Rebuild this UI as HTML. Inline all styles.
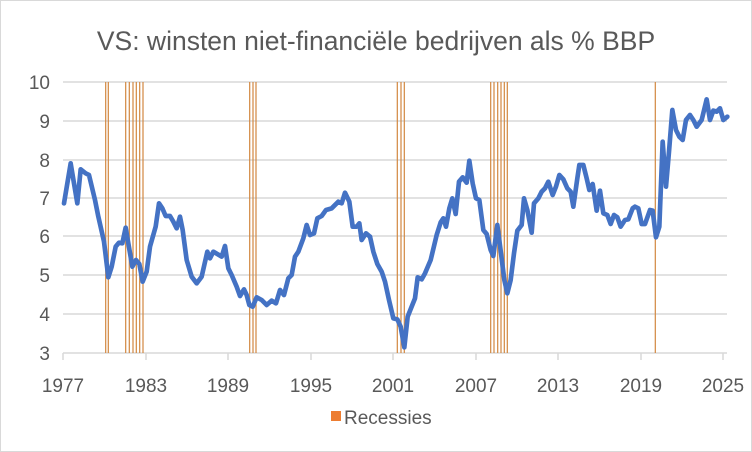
<!DOCTYPE html>
<html><head><meta charset="utf-8"><style>
html,body{margin:0;padding:0;background:#fff;}
svg{display:block;font-family:"Liberation Sans",Calibri,sans-serif;}
</style></head><body>
<svg width="752" height="452" viewBox="0 0 752 452" xmlns="http://www.w3.org/2000/svg">
<rect x="0.5" y="0.5" width="751" height="451" fill="#fff" stroke="#d9d9d9"/>
<text x="376" y="50" text-anchor="middle" font-size="26.5" fill="#595959">VS: winsten niet-financiële bedrijven als % BBP</text>
<g stroke="#d9d9d9" stroke-width="1.5">
<line x1="63" x2="727" y1="82" y2="82"/><line x1="63" x2="727" y1="121" y2="121"/>
<line x1="63" x2="727" y1="160" y2="160"/><line x1="63" x2="727" y1="198" y2="198"/>
<line x1="63" x2="727" y1="236" y2="236"/><line x1="63" x2="727" y1="275" y2="275"/>
<line x1="63" x2="727" y1="314" y2="314"/><line x1="63" x2="727" y1="353" y2="353"/>
<line x1="63" x2="63" y1="353" y2="360"/><line x1="146" x2="146" y1="353" y2="360"/>
<line x1="228" x2="228" y1="353" y2="360"/><line x1="311" x2="311" y1="353" y2="360"/>
<line x1="393" x2="393" y1="353" y2="360"/><line x1="476" x2="476" y1="353" y2="360"/>
<line x1="558" x2="558" y1="353" y2="360"/><line x1="641" x2="641" y1="353" y2="360"/>
<line x1="723" x2="723" y1="353" y2="360"/>
</g>
<g stroke="#d2873f" stroke-width="1.2">
<line x1="105.7" x2="105.7" y1="82" y2="353"/><line x1="108.3" x2="108.3" y1="82" y2="353"/>
<line x1="125.7" x2="125.7" y1="82" y2="353"/><line x1="129.3" x2="129.3" y1="82" y2="353"/>
<line x1="133" x2="133" y1="82" y2="353"/><line x1="136.3" x2="136.3" y1="82" y2="353"/>
<line x1="139.7" x2="139.7" y1="82" y2="353"/><line x1="143" x2="143" y1="82" y2="353"/>
<line x1="249.7" x2="249.7" y1="82" y2="353"/><line x1="253" x2="253" y1="82" y2="353"/>
<line x1="256" x2="256" y1="82" y2="353"/>
<line x1="397.3" x2="397.3" y1="82" y2="353"/><line x1="401" x2="401" y1="82" y2="353"/>
<line x1="404.3" x2="404.3" y1="82" y2="353"/>
<line x1="490.7" x2="490.7" y1="82" y2="353"/><line x1="494" x2="494" y1="82" y2="353"/>
<line x1="497.7" x2="497.7" y1="82" y2="353"/><line x1="501" x2="501" y1="82" y2="353"/>
<line x1="504.3" x2="504.3" y1="82" y2="353"/><line x1="507.3" x2="507.3" y1="82" y2="353"/>
<line x1="655.3" x2="655.3" y1="82" y2="353"/>
</g>
<g fill="none" stroke="#4472c4" stroke-width="14" stroke-linejoin="round" stroke-linecap="round">
<polyline transform="translate(40,60) scale(0.33333)" points="72,430 92,310 112,430 122,328 137,340 147,345 165,420 175,470 192,545 205,652 215,620 227,560 237,548 247,550 257,503 265,550 277,620 288,600 298,612 308,665 320,635 330,560 347,500 357,430 367,445 377,468 390,468 400,485 410,505 420,470 428,510 440,600 455,650 470,670 485,650 502,575 510,595 520,575 545,590 555,558 565,625 575,645 590,680 600,708 612,688 620,705 628,735 638,740 650,712 665,720 680,735 695,722 708,730 720,690 732,705 745,655 755,645 765,590 775,575 790,535 800,495 810,525 822,520 832,475 845,468 858,450 875,445 895,425 905,430 915,398 928,425 938,500 950,500 958,490 965,540 978,520 990,530"/>
<polyline transform="translate(370,60) scale(0.33333)" points="0,530 10,575 22,612 35,635 45,665 57,720 70,775 82,778 92,800 103,862 113,770 125,740 135,715 143,652 155,658 165,640 182,600 200,525 212,487 220,475 228,500 238,445 247,415 257,462 267,365 278,352 290,368 298,302 308,370 318,415 328,420 340,510 350,522 362,570 370,588 382,495 393,580 403,660 412,700 422,660 432,580 442,512 455,495 462,415 472,450 485,518 492,430 505,415 515,395 525,385 535,365 548,405 558,380 568,345 580,358 592,385 602,395 610,440 622,355 628,315 640,315 650,355 658,390 668,372 680,452 690,392 700,460 712,465 722,492 732,465 742,472 752,500 765,480 775,478 788,445 795,440 805,445 815,492 825,492 840,450 848,452 858,532 868,500 878,245 888,380 897,275 907,150 918,210 928,230 938,240 948,180 960,165 970,180 980,200 995,180 1010,118 1020,180 1030,152 1040,155 1050,145 1060,180 1072,170"/>
</g>
<g font-size="19" fill="#595959" text-anchor="end">
<text x="50" y="89">10</text><text x="50" y="128">9</text><text x="50" y="167">8</text>
<text x="50" y="205">7</text><text x="50" y="243">6</text><text x="50" y="282">5</text>
<text x="50" y="321">4</text><text x="50" y="360">3</text>
</g>
<g font-size="19" fill="#595959" text-anchor="middle">
<text x="63" y="392">1977</text><text x="146" y="392">1983</text><text x="228" y="392">1989</text>
<text x="311" y="392">1995</text><text x="393" y="392">2001</text><text x="476" y="392">2007</text>
<text x="558" y="392">2013</text><text x="641" y="392">2019</text><text x="723" y="392">2025</text>
</g>
<rect x="331" y="411" width="10" height="10" fill="#ed7d31"/>
<text x="344" y="424" font-size="19" fill="#595959">Recessies</text>
</svg>
</body></html>
